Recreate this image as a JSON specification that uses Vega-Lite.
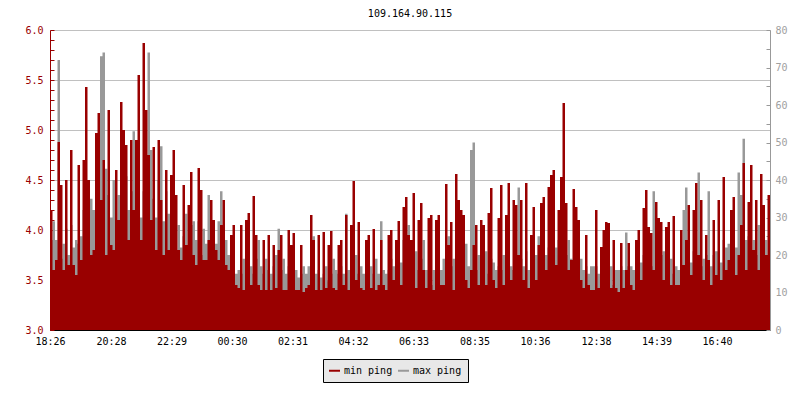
{
"$schema":"https://vega.github.io/schema/vega-lite/v6.json",
"width":720,"height":300,
"autosize":{"type":"none"},
"padding":{"left":50,"top":30,"right":30,"bottom":70},
"background":"white",
"title":{"text":"109.164.90.115","font":"DejaVu Sans Mono","fontSize":10,"fontWeight":"normal","color":"black","anchor":"middle","frame":"group","baseline":"bottom","offset":-4},
"config":{"view":{"stroke":null},"font":"DejaVu Sans Mono"},
"data":{"values":[
{"t":"2024-01-01T18:26","min":4.2,"max":24},
{"t":"2024-01-01T18:31","min":3.6,"max":29},
{"t":"2024-01-01T18:36","min":3.7,"max":24},
{"t":"2024-01-01T18:41","min":4.88,"max":72},
{"t":"2024-01-01T18:46","min":4.45,"max":19},
{"t":"2024-01-01T18:51","min":3.6,"max":23},
{"t":"2024-01-01T18:56","min":4.5,"max":27},
{"t":"2024-01-01T19:01","min":3.65,"max":20},
{"t":"2024-01-01T19:06","min":4.8,"max":28},
{"t":"2024-01-01T19:11","min":3.65,"max":22},
{"t":"2024-01-01T19:16","min":3.55,"max":24},
{"t":"2024-01-01T19:21","min":4.65,"max":23},
{"t":"2024-01-01T19:26","min":3.7,"max":25},
{"t":"2024-01-01T19:31","min":4.7,"max":32},
{"t":"2024-01-01T19:36","min":5.43,"max":24},
{"t":"2024-01-01T19:41","min":4.5,"max":29},
{"t":"2024-01-01T19:46","min":3.75,"max":35},
{"t":"2024-01-01T19:51","min":3.8,"max":32},
{"t":"2024-01-01T19:56","min":4.97,"max":27},
{"t":"2024-01-01T20:01","min":5.17,"max":39},
{"t":"2024-01-01T20:06","min":4.3,"max":73},
{"t":"2024-01-01T20:11","min":4.7,"max":74},
{"t":"2024-01-01T20:16","min":3.75,"max":43},
{"t":"2024-01-01T20:21","min":5.2,"max":36},
{"t":"2024-01-01T20:26","min":3.85,"max":30},
{"t":"2024-01-01T20:31","min":3.8,"max":40},
{"t":"2024-01-01T20:36","min":4.6,"max":29},
{"t":"2024-01-01T20:41","min":4.1,"max":36},
{"t":"2024-01-01T20:46","min":5.28,"max":28},
{"t":"2024-01-01T20:51","min":5.0,"max":35},
{"t":"2024-01-01T20:56","min":4.85,"max":41},
{"t":"2024-01-01T21:01","min":3.9,"max":32},
{"t":"2024-01-01T21:06","min":4.9,"max":37},
{"t":"2024-01-01T21:11","min":4.2,"max":53},
{"t":"2024-01-01T21:16","min":4.9,"max":27},
{"t":"2024-01-01T21:21","min":5.55,"max":35},
{"t":"2024-01-01T21:26","min":3.9,"max":30},
{"t":"2024-01-01T21:31","min":5.87,"max":37},
{"t":"2024-01-01T21:36","min":5.2,"max":27},
{"t":"2024-01-01T21:41","min":4.75,"max":74},
{"t":"2024-01-01T21:46","min":4.1,"max":48},
{"t":"2024-01-01T21:51","min":4.83,"max":35},
{"t":"2024-01-01T21:56","min":3.8,"max":30},
{"t":"2024-01-01T22:01","min":4.9,"max":40},
{"t":"2024-01-01T22:06","min":4.3,"max":49},
{"t":"2024-01-01T22:11","min":3.75,"max":29},
{"t":"2024-01-01T22:16","min":4.6,"max":37},
{"t":"2024-01-01T22:21","min":3.8,"max":31},
{"t":"2024-01-01T22:26","min":4.55,"max":24},
{"t":"2024-01-01T22:31","min":4.8,"max":27},
{"t":"2024-01-01T22:36","min":4.35,"max":16},
{"t":"2024-01-01T22:41","min":3.8,"max":28},
{"t":"2024-01-01T22:46","min":3.7,"max":22},
{"t":"2024-01-01T22:51","min":4.45,"max":25},
{"t":"2024-01-01T22:56","min":3.85,"max":31},
{"t":"2024-01-01T23:01","min":4.25,"max":19},
{"t":"2024-01-01T23:06","min":4.58,"max":28},
{"t":"2024-01-01T23:11","min":3.75,"max":29},
{"t":"2024-01-01T23:16","min":3.65,"max":24},
{"t":"2024-01-01T23:21","min":4.62,"max":29},
{"t":"2024-01-01T23:26","min":4.4,"max":20},
{"t":"2024-01-01T23:31","min":3.7,"max":27},
{"t":"2024-01-01T23:36","min":3.7,"max":23},
{"t":"2024-01-01T23:41","min":3.9,"max":36},
{"t":"2024-01-01T23:46","min":4.3,"max":20},
{"t":"2024-01-01T23:51","min":4.1,"max":16},
{"t":"2024-01-01T23:56","min":3.8,"max":23},
{"t":"2024-01-02T00:01","min":3.7,"max":29},
{"t":"2024-01-02T00:06","min":4.05,"max":37},
{"t":"2024-01-02T00:11","min":4.3,"max":19},
{"t":"2024-01-02T00:16","min":3.65,"max":24},
{"t":"2024-01-02T00:21","min":3.6,"max":20},
{"t":"2024-01-02T00:26","min":3.95,"max":15},
{"t":"2024-01-02T00:31","min":4.05,"max":17},
{"t":"2024-01-02T00:36","min":3.45,"max":15},
{"t":"2024-01-02T00:41","min":3.42,"max":16},
{"t":"2024-01-02T00:46","min":4.05,"max":15},
{"t":"2024-01-02T00:51","min":3.4,"max":19},
{"t":"2024-01-02T00:56","min":4.1,"max":16},
{"t":"2024-01-02T01:01","min":4.17,"max":20},
{"t":"2024-01-02T01:06","min":3.45,"max":17},
{"t":"2024-01-02T01:11","min":4.34,"max":15},
{"t":"2024-01-02T01:16","min":3.95,"max":19},
{"t":"2024-01-02T01:21","min":3.45,"max":24},
{"t":"2024-01-02T01:26","min":3.4,"max":17},
{"t":"2024-01-02T01:31","min":3.9,"max":15},
{"t":"2024-01-02T01:36","min":3.4,"max":19},
{"t":"2024-01-02T01:41","min":3.95,"max":16},
{"t":"2024-01-02T01:46","min":3.4,"max":15},
{"t":"2024-01-02T01:51","min":3.85,"max":17},
{"t":"2024-01-02T01:56","min":3.42,"max":20},
{"t":"2024-01-02T02:01","min":3.8,"max":27},
{"t":"2024-01-02T02:06","min":3.95,"max":16},
{"t":"2024-01-02T02:11","min":3.4,"max":19},
{"t":"2024-01-02T02:16","min":3.4,"max":15},
{"t":"2024-01-02T02:21","min":4.0,"max":17},
{"t":"2024-01-02T02:26","min":3.85,"max":16},
{"t":"2024-01-02T02:31","min":3.97,"max":19},
{"t":"2024-01-02T02:36","min":3.4,"max":16},
{"t":"2024-01-02T02:41","min":3.4,"max":14},
{"t":"2024-01-02T02:46","min":3.85,"max":15},
{"t":"2024-01-02T02:51","min":3.38,"max":17},
{"t":"2024-01-02T02:56","min":3.42,"max":15},
{"t":"2024-01-02T03:01","min":3.45,"max":17},
{"t":"2024-01-02T03:06","min":4.15,"max":13},
{"t":"2024-01-02T03:11","min":3.9,"max":25},
{"t":"2024-01-02T03:16","min":3.4,"max":15},
{"t":"2024-01-02T03:21","min":3.95,"max":16},
{"t":"2024-01-02T03:26","min":3.4,"max":14},
{"t":"2024-01-02T03:31","min":3.98,"max":15},
{"t":"2024-01-02T03:36","min":3.42,"max":17},
{"t":"2024-01-02T03:41","min":3.85,"max":13},
{"t":"2024-01-02T03:46","min":3.99,"max":15},
{"t":"2024-01-02T03:51","min":3.42,"max":19},
{"t":"2024-01-02T03:56","min":3.4,"max":16},
{"t":"2024-01-02T04:01","min":3.85,"max":15},
{"t":"2024-01-02T04:06","min":3.9,"max":17},
{"t":"2024-01-02T04:11","min":3.45,"max":15},
{"t":"2024-01-02T04:16","min":4.15,"max":31},
{"t":"2024-01-02T04:21","min":3.4,"max":16},
{"t":"2024-01-02T04:26","min":4.05,"max":13},
{"t":"2024-01-02T04:31","min":4.49,"max":16},
{"t":"2024-01-02T04:36","min":3.5,"max":20},
{"t":"2024-01-02T04:41","min":4.08,"max":15},
{"t":"2024-01-02T04:46","min":3.42,"max":17},
{"t":"2024-01-02T04:51","min":3.4,"max":15},
{"t":"2024-01-02T04:56","min":3.9,"max":12},
{"t":"2024-01-02T05:01","min":3.95,"max":16},
{"t":"2024-01-02T05:06","min":3.42,"max":17},
{"t":"2024-01-02T05:11","min":4.01,"max":15},
{"t":"2024-01-02T05:16","min":3.4,"max":19},
{"t":"2024-01-02T05:21","min":3.45,"max":15},
{"t":"2024-01-02T05:26","min":3.9,"max":29},
{"t":"2024-01-02T05:31","min":3.45,"max":16},
{"t":"2024-01-02T05:36","min":3.4,"max":15},
{"t":"2024-01-02T05:41","min":3.95,"max":16},
{"t":"2024-01-02T05:46","min":4.0,"max":19},
{"t":"2024-01-02T05:51","min":3.5,"max":17},
{"t":"2024-01-02T05:56","min":3.9,"max":17},
{"t":"2024-01-02T06:01","min":4.09,"max":20},
{"t":"2024-01-02T06:06","min":3.45,"max":18},
{"t":"2024-01-02T06:11","min":4.23,"max":24},
{"t":"2024-01-02T06:16","min":4.33,"max":19},
{"t":"2024-01-02T06:21","min":3.95,"max":28},
{"t":"2024-01-02T06:26","min":3.9,"max":17},
{"t":"2024-01-02T06:31","min":4.37,"max":20},
{"t":"2024-01-02T06:36","min":3.42,"max":21},
{"t":"2024-01-02T06:41","min":4.1,"max":16},
{"t":"2024-01-02T06:46","min":4.27,"max":19},
{"t":"2024-01-02T06:51","min":3.6,"max":24},
{"t":"2024-01-02T06:56","min":3.42,"max":16},
{"t":"2024-01-02T07:01","min":4.12,"max":16},
{"t":"2024-01-02T07:06","min":4.15,"max":12},
{"t":"2024-01-02T07:11","min":3.4,"max":16},
{"t":"2024-01-02T07:16","min":4.1,"max":13},
{"t":"2024-01-02T07:21","min":4.15,"max":17},
{"t":"2024-01-02T07:26","min":3.45,"max":16},
{"t":"2024-01-02T07:31","min":3.45,"max":19},
{"t":"2024-01-02T07:36","min":4.46,"max":16},
{"t":"2024-01-02T07:41","min":3.85,"max":25},
{"t":"2024-01-02T07:46","min":4.08,"max":17},
{"t":"2024-01-02T07:51","min":3.4,"max":19},
{"t":"2024-01-02T07:56","min":4.56,"max":15},
{"t":"2024-01-02T08:01","min":4.3,"max":20},
{"t":"2024-01-02T08:06","min":4.2,"max":16},
{"t":"2024-01-02T08:11","min":4.15,"max":13},
{"t":"2024-01-02T08:16","min":3.5,"max":23},
{"t":"2024-01-02T08:21","min":3.42,"max":17},
{"t":"2024-01-02T08:26","min":3.6,"max":48},
{"t":"2024-01-02T08:31","min":3.85,"max":50},
{"t":"2024-01-02T08:36","min":4.05,"max":16},
{"t":"2024-01-02T08:41","min":3.45,"max":20},
{"t":"2024-01-02T08:46","min":4.1,"max":15},
{"t":"2024-01-02T08:51","min":4.05,"max":16},
{"t":"2024-01-02T08:56","min":3.45,"max":21},
{"t":"2024-01-02T09:01","min":4.17,"max":15},
{"t":"2024-01-02T09:06","min":4.42,"max":19},
{"t":"2024-01-02T09:11","min":3.5,"max":18},
{"t":"2024-01-02T09:16","min":3.42,"max":16},
{"t":"2024-01-02T09:21","min":4.12,"max":17},
{"t":"2024-01-02T09:26","min":4.45,"max":16},
{"t":"2024-01-02T09:31","min":3.45,"max":20},
{"t":"2024-01-02T09:36","min":4.15,"max":15},
{"t":"2024-01-02T09:41","min":4.47,"max":23},
{"t":"2024-01-02T09:46","min":3.5,"max":17},
{"t":"2024-01-02T09:51","min":4.3,"max":16},
{"t":"2024-01-02T09:56","min":4.25,"max":20},
{"t":"2024-01-02T10:01","min":3.75,"max":38},
{"t":"2024-01-02T10:06","min":4.3,"max":19},
{"t":"2024-01-02T10:11","min":3.5,"max":17},
{"t":"2024-01-02T10:16","min":4.47,"max":21},
{"t":"2024-01-02T10:21","min":3.42,"max":16},
{"t":"2024-01-02T10:26","min":3.95,"max":15},
{"t":"2024-01-02T10:31","min":4.23,"max":17},
{"t":"2024-01-02T10:36","min":3.5,"max":20},
{"t":"2024-01-02T10:41","min":3.85,"max":25},
{"t":"2024-01-02T10:46","min":4.27,"max":16},
{"t":"2024-01-02T10:51","min":4.33,"max":17},
{"t":"2024-01-02T10:56","min":3.6,"max":20},
{"t":"2024-01-02T11:01","min":4.43,"max":22},
{"t":"2024-01-02T11:06","min":4.55,"max":21},
{"t":"2024-01-02T11:11","min":4.6,"max":27},
{"t":"2024-01-02T11:16","min":3.65,"max":22},
{"t":"2024-01-02T11:21","min":4.2,"max":24},
{"t":"2024-01-02T11:26","min":4.53,"max":21},
{"t":"2024-01-02T11:31","min":5.27,"max":25},
{"t":"2024-01-02T11:36","min":4.27,"max":20},
{"t":"2024-01-02T11:41","min":3.6,"max":24},
{"t":"2024-01-02T11:46","min":3.7,"max":19},
{"t":"2024-01-02T11:51","min":4.41,"max":18},
{"t":"2024-01-02T11:56","min":4.23,"max":21},
{"t":"2024-01-02T12:01","min":4.1,"max":16},
{"t":"2024-01-02T12:06","min":3.5,"max":19},
{"t":"2024-01-02T12:11","min":3.42,"max":16},
{"t":"2024-01-02T12:16","min":3.95,"max":17},
{"t":"2024-01-02T12:21","min":3.45,"max":15},
{"t":"2024-01-02T12:26","min":3.4,"max":17},
{"t":"2024-01-02T12:31","min":3.4,"max":17},
{"t":"2024-01-02T12:36","min":4.2,"max":17},
{"t":"2024-01-02T12:41","min":3.42,"max":15},
{"t":"2024-01-02T12:46","min":3.83,"max":16},
{"t":"2024-01-02T12:51","min":4.0,"max":13},
{"t":"2024-01-02T12:56","min":4.08,"max":16},
{"t":"2024-01-02T13:01","min":4.07,"max":15},
{"t":"2024-01-02T13:06","min":3.42,"max":17},
{"t":"2024-01-02T13:11","min":3.9,"max":12},
{"t":"2024-01-02T13:16","min":3.42,"max":16},
{"t":"2024-01-02T13:21","min":3.38,"max":16},
{"t":"2024-01-02T13:26","min":3.87,"max":17},
{"t":"2024-01-02T13:31","min":3.42,"max":16},
{"t":"2024-01-02T13:36","min":3.6,"max":26},
{"t":"2024-01-02T13:41","min":3.87,"max":17},
{"t":"2024-01-02T13:46","min":3.45,"max":17},
{"t":"2024-01-02T13:51","min":3.4,"max":16},
{"t":"2024-01-02T13:56","min":3.9,"max":20},
{"t":"2024-01-02T14:01","min":4.0,"max":17},
{"t":"2024-01-02T14:06","min":3.5,"max":18},
{"t":"2024-01-02T14:11","min":4.22,"max":20},
{"t":"2024-01-02T14:16","min":4.4,"max":19},
{"t":"2024-01-02T14:21","min":4.03,"max":17},
{"t":"2024-01-02T14:26","min":3.97,"max":17},
{"t":"2024-01-02T14:31","min":3.6,"max":37},
{"t":"2024-01-02T14:36","min":4.28,"max":19},
{"t":"2024-01-02T14:41","min":4.12,"max":15},
{"t":"2024-01-02T14:46","min":4.08,"max":20},
{"t":"2024-01-02T14:51","min":3.5,"max":21},
{"t":"2024-01-02T14:56","min":4.03,"max":26},
{"t":"2024-01-02T15:01","min":4.08,"max":16},
{"t":"2024-01-02T15:06","min":3.45,"max":19},
{"t":"2024-01-02T15:11","min":4.14,"max":15},
{"t":"2024-01-02T15:16","min":3.45,"max":17},
{"t":"2024-01-02T15:21","min":3.45,"max":16},
{"t":"2024-01-02T15:26","min":4.0,"max":16},
{"t":"2024-01-02T15:31","min":3.65,"max":32},
{"t":"2024-01-02T15:36","min":3.9,"max":38},
{"t":"2024-01-02T15:41","min":4.25,"max":20},
{"t":"2024-01-02T15:46","min":3.55,"max":18},
{"t":"2024-01-02T15:51","min":4.2,"max":21},
{"t":"2024-01-02T15:56","min":4.47,"max":19},
{"t":"2024-01-02T16:01","min":3.75,"max":42},
{"t":"2024-01-02T16:06","min":4.3,"max":17},
{"t":"2024-01-02T16:11","min":3.5,"max":19},
{"t":"2024-01-02T16:16","min":3.95,"max":20},
{"t":"2024-01-02T16:21","min":3.7,"max":37},
{"t":"2024-01-02T16:26","min":3.45,"max":17},
{"t":"2024-01-02T16:31","min":4.1,"max":20},
{"t":"2024-01-02T16:36","min":3.55,"max":21},
{"t":"2024-01-02T16:41","min":4.3,"max":21},
{"t":"2024-01-02T16:46","min":3.5,"max":18},
{"t":"2024-01-02T16:51","min":4.53,"max":24},
{"t":"2024-01-02T16:56","min":3.6,"max":22},
{"t":"2024-01-02T17:01","min":3.7,"max":23},
{"t":"2024-01-02T17:06","min":4.2,"max":17},
{"t":"2024-01-02T17:11","min":4.33,"max":20},
{"t":"2024-01-02T17:16","min":3.55,"max":22},
{"t":"2024-01-02T17:21","min":3.75,"max":42},
{"t":"2024-01-02T17:26","min":4.05,"max":36},
{"t":"2024-01-02T17:31","min":4.67,"max":51},
{"t":"2024-01-02T17:36","min":3.6,"max":24},
{"t":"2024-01-02T17:41","min":4.28,"max":25},
{"t":"2024-01-02T17:46","min":4.65,"max":19},
{"t":"2024-01-02T17:51","min":3.8,"max":24},
{"t":"2024-01-02T17:56","min":4.3,"max":20},
{"t":"2024-01-02T18:01","min":3.6,"max":28},
{"t":"2024-01-02T18:06","min":4.56,"max":21},
{"t":"2024-01-02T18:11","min":4.25,"max":25},
{"t":"2024-01-02T18:16","min":3.75,"max":24},
{"t":"2024-01-02T18:21","min":4.35,"max":20},
{"t":"2024-01-02T18:26","min":4.2,"max":22}
]},
"encoding":{
"x":{"field":"t","type":"temporal",
"scale":{"domain":[{"year":2024,"month":1,"date":1,"hours":18,"minutes":26},{"year":2024,"month":1,"date":2,"hours":18,"minutes":26}]},
"axis":{"title":null,"grid":false,"format":"%H:%M","labelFont":"DejaVu Sans Mono","labelFontSize":10,"labelColor":"black","domainColor":"black","tickColor":"black","tickSize":-5,"labelPadding":11,"labelFlush":false,"labelOverlap":false,
"values":[
{"year":2024,"month":1,"date":1,"hours":18,"minutes":26},
{"year":2024,"month":1,"date":1,"hours":20,"minutes":28},
{"year":2024,"month":1,"date":1,"hours":22,"minutes":29},
{"year":2024,"month":1,"date":2,"hours":0,"minutes":30},
{"year":2024,"month":1,"date":2,"hours":2,"minutes":31},
{"year":2024,"month":1,"date":2,"hours":4,"minutes":32},
{"year":2024,"month":1,"date":2,"hours":6,"minutes":33},
{"year":2024,"month":1,"date":2,"hours":8,"minutes":35},
{"year":2024,"month":1,"date":2,"hours":10,"minutes":36},
{"year":2024,"month":1,"date":2,"hours":12,"minutes":38},
{"year":2024,"month":1,"date":2,"hours":14,"minutes":39},
{"year":2024,"month":1,"date":2,"hours":16,"minutes":40}
]}}
},
"layer":[
{"mark":{"type":"area","interpolate":"step-after","opacity":1},
"encoding":{
"y":{"field":"max","type":"quantitative","stack":null,"scale":{"domain":[0,80],"nice":false},
"axis":{"orient":"right","title":null,"grid":false,"values":[0,5,10,15,20,25,30,35,40,45,50,55,60,65,70,75,80],
"labelExpr":"datum.value % 10 == 0 ? datum.label : ''","labelFont":"DejaVu Sans Mono","labelFontSize":10,"labelColor":"#a0a0a0","domainColor":"#999999","tickColor":"#999999","tickSize":-4,"labelPadding":9}},
"y2":{"datum":0},
"color":{"datum":"max ping"}}},
{"mark":{"type":"area","interpolate":"step-after","opacity":1},
"encoding":{
"y":{"field":"min","type":"quantitative","stack":null,"scale":{"domain":[3,6],"zero":false,"nice":false},
"axis":{"orient":"left","title":null,"values":[3.0,3.1,3.2,3.3,3.4,3.5,3.6,3.7,3.8,3.9,4.0,4.1,4.2,4.3,4.4,4.5,4.6,4.7,4.8,4.9,5.0,5.1,5.2,5.3,5.4,5.5,5.6,5.7,5.8,5.9,6.0],
"labelExpr":"round(datum.value*10) % 5 == 0 ? format(datum.value, '.1f') : ''",
"grid":true,"gridColor":"#c0c0c0","gridOpacity":{"condition":{"test":"round(datum.value*10) % 5 == 0","value":1},"value":0},
"labelFont":"DejaVu Sans Mono","labelFontSize":10,"labelColor":"#990000","domainColor":"#990000","tickColor":"#990000","tickSize":-4,"labelPadding":11}},
"y2":{"datum":3},
"color":{"datum":"min ping","scale":{"domain":["min ping","max ping"],"range":["#990000","#999999"]},
"legend":{"orient":"none","legendX":273,"legendY":329,"direction":"horizontal","title":null,"fillColor":"#e8e8e8","strokeColor":"black","padding":6,"columnPadding":5,"labelOffset":4,"labelFont":"DejaVu Sans Mono","labelFontSize":10,"labelColor":"black","symbolType":"M-1,-0.18H1V0.18H-1Z","symbolSize":121,"symbolStrokeWidth":0,"symbolOpacity":1}}}}
],
"resolve":{"scale":{"y":"independent"},"axis":{"y":"independent"}}
}
